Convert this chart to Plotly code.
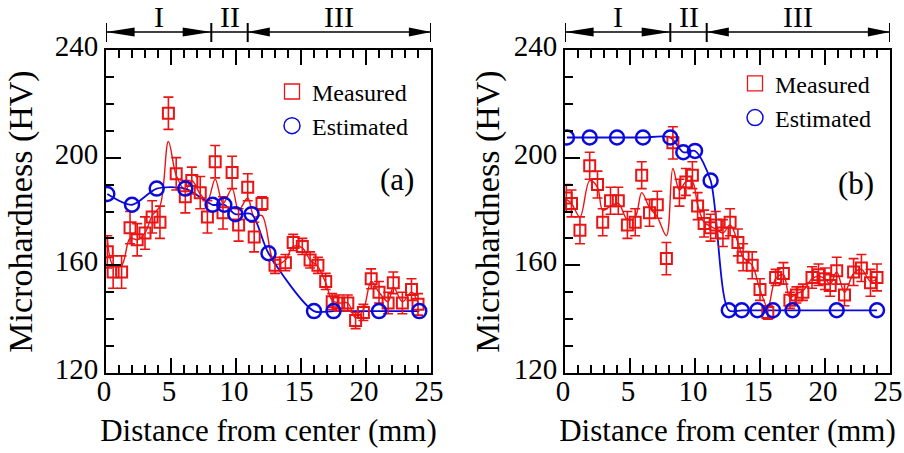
import plotly.graph_objects as go

# ---------------- data ----------------
# Panel (a)
xa_meas = [0.1, 0.55, 1.2, 1.85, 2.4, 3.0, 3.55, 4.15, 4.8, 5.4, 6.1, 6.6, 7.25, 7.8, 8.4, 9.0, 9.7, 10.2,
           10.9, 11.4, 12.0, 13.0, 13.8, 14.4, 15.1, 15.7, 16.3, 16.9, 17.4, 17.9, 18.6, 19.2, 19.8, 20.4,
           21.0, 21.7, 22.1, 22.8, 23.5, 24.0]
ya_meas = [165, 157.5, 157.5, 174, 169.5, 172, 178, 176, 216.5, 194, 185.5, 191.5, 187, 178, 198.5, 179.5,
           194.5, 175, 189, 170.5, 183, 160, 161, 168.5, 167, 162, 160, 154, 146.5, 146, 146, 139.5, 142.5,
           155, 150, 146, 153.5, 146, 151, 145.5]
ea_meas = [6, 6, 6, 6, 6, 6, 6, 6, 6, 6, 6, 5, 6, 6, 6, 6, 6, 6, 5, 5.5, 2.5, 3, 3, 3, 3, 3, 3, 3, 3, 3,
           3, 3, 3, 3.7, 4, 4, 4, 4, 4, 4]
ya_fit = [170.5, 160, 160, 170, 169.5, 172, 178.5, 182, 206, 193.5, 188, 191.5, 186.5, 184, 192, 183, 188.5,
          180.5, 185, 178, 178.5, 160.5, 162, 167, 166.5, 162, 159.5, 153.5, 147, 146, 146, 140.5, 143.5,
          154, 150, 146.5, 152, 146.5, 150, 146]
xa_est = [0.1, 2.0, 3.9, 6.1, 8.2, 9.1, 9.95, 11.2, 12.5, 16.0, 17.5, 21.0, 24.1]
ya_est = [186.5, 182.5, 188.5, 188.5, 182.5, 182.5, 179, 179, 164.5, 143, 143, 143, 143]

# Panel (b)
xb_meas = [0.1, 0.5, 1.15, 1.9, 2.5, 2.9, 3.5, 4.1, 4.8, 5.4, 5.9, 6.5, 7.1, 7.8, 8.3, 8.8, 9.3, 9.8, 10.2,
           10.7, 11.2, 11.6, 12.15, 12.7, 13.3, 13.7, 14.4, 15.0, 15.6, 16.2, 16.8, 17.3, 17.8, 18.3, 19.0,
           19.5, 20.0, 20.4, 20.9, 21.5, 22.2, 22.8, 23.5, 24.0]
yb_meas = [185, 183, 173, 197, 190, 176, 184, 184, 175, 176, 193.5, 179.5, 182.5, 162.5, 205.5, 187, 191,
           193.5, 182, 175.5, 174, 175, 172, 176, 168.5, 163, 160, 151, 142.5, 155.5, 157, 147, 149, 150,
           155.5, 156.5, 155, 152.5, 158, 149, 157.5, 159, 153.5, 155.5]
eb_meas = [5, 5, 5, 5, 5, 5, 5, 5, 5, 5, 5, 5, 5, 6, 6, 5, 5, 5, 5, 5, 5, 5, 5, 5, 5, 5, 5, 4, 2.5, 3, 4,
           3, 3, 3, 4, 4, 4, 4, 5, 4, 5, 5, 5, 5]
yb_fit = [184.5, 183, 178, 191.5, 189, 180.5, 182, 183, 177, 178, 187, 181.5, 178, 171, 196, 188, 191, 191,
          182.5, 176, 174.5, 173.5, 172, 175, 168.5, 163, 160, 151, 144.5, 155, 156.5, 148, 149.5, 150.5,
          155, 156, 155, 153, 157.5, 150, 157, 158.5, 154, 155]
xb_est = [0.15, 1.9, 4.0, 6.0, 8.1, 9.1, 10.0, 11.2, 12.6, 13.6, 14.8, 16.0, 17.5, 20.9, 24.0]
yb_est = [207.5, 207.5, 207.5, 207.5, 207.5, 202, 202.5, 191.5, 143.3, 143.3, 143.3, 143.3, 143.3, 143.3, 143.3]

# regions (mm)
regions_a = [0, 8.1, 10.9, 25]
regions_b = [0, 8.1, 10.9, 25]
region_labels = ["I", "II", "III"]

RED = "rgb(235,20,20)"
BLUE = "rgb(10,10,220)"
FONT = "Liberation Serif"

fig = go.Figure()


def add_panel(xm, ym, em, yfit, xe, ye, xa, ya, legend):
    fig.add_trace(go.Scatter(x=xm, y=yfit, mode="lines", line=dict(color=RED, width=1.4, shape="spline", smoothing=1.0),
                             xaxis=xa, yaxis=ya, showlegend=False, hoverinfo="skip"))
    fig.add_trace(go.Scatter(x=xe, y=ye, mode="lines", line=dict(color=BLUE, width=1.8, shape="spline", smoothing=0.8),
                             xaxis=xa, yaxis=ya, showlegend=False, hoverinfo="skip"))
    fig.add_trace(go.Scatter(x=xm, y=ym, mode="markers", showlegend=False,
                             marker=dict(symbol="square-open", size=11, color=RED, line=dict(width=2, color=RED)),
                             error_y=dict(type="data", array=em, color=RED, thickness=1.6, width=5),
                             xaxis=xa, yaxis=ya))
    fig.add_trace(go.Scatter(x=xe, y=ye, mode="markers", showlegend=False,
                             marker=dict(symbol="circle-open", size=14, color=BLUE, line=dict(width=2.5, color=BLUE)),
                             xaxis=xa, yaxis=ya))
    # legend entries (thin, larger symbols as in the reference legend)
    fig.add_trace(go.Scatter(x=[None], y=[None], mode="markers", name="Measured",
                             marker=dict(symbol="square-open", size=15, color=RED, line=dict(width=1.3, color=RED)),
                             xaxis=xa, yaxis=ya, legend=legend))
    fig.add_trace(go.Scatter(x=[None], y=[None], mode="markers", name="Estimated",
                             marker=dict(symbol="circle-open", size=16, color=BLUE, line=dict(width=1.5, color=BLUE)),
                             xaxis=xa, yaxis=ya, legend=legend))


add_panel(xa_meas, ya_meas, ea_meas, ya_fit, xa_est, ya_est, "x", "y", "legend")
add_panel(xb_meas, yb_meas, eb_meas, yb_fit, xb_est, yb_est, "x2", "y2", "legend2")

H_PLOT = 323.0  # plot height in px
def py(offset_px):
    return 1 + offset_px / H_PLOT

shapes = []
annotations = []
for xr, bounds in (("x", regions_a), ("x2", regions_b)):
    yl = py(18)
    for b in bounds:
        shapes.append(dict(type="line", xref=xr, yref="paper", x0=b, x1=b, y0=py(8), y1=py(27),
                           line=dict(color="black", width=2)))
    for i in range(3):
        shapes.append(dict(type="line", xref=xr, yref="paper", x0=bounds[i], x1=bounds[i + 1], y0=yl, y1=yl,
                           line=dict(color="black", width=1.5)))
    hh = 4.5 / H_PLOT
    for i, L in ((0, 2.2), (2, 1.7)):
        a, b = bounds[i], bounds[i + 1]
        shapes.append(dict(type="path", xref=xr, yref="paper", fillcolor="black", line=dict(width=0),
                           path=f"M {a},{yl} L {a + L},{yl + hh} L {a + L},{yl - hh} Z"))
        shapes.append(dict(type="path", xref=xr, yref="paper", fillcolor="black", line=dict(width=0),
                           path=f"M {b},{yl} L {b - L},{yl + hh} L {b - L},{yl - hh} Z"))
    for i, lab in enumerate(region_labels):
        annotations.append(dict(x=(bounds[i] + bounds[i + 1]) / 2, y=py(34), xref=xr, yref="paper",
                                text=lab, showarrow=False, yanchor="middle",
                                font=dict(family=FONT, size=30, color="black")))

annotations.append(dict(x=22.4, y=192, xref="x", yref="y", text="(a)", showarrow=False,
                        font=dict(family=FONT, size=31, color="black")))
annotations.append(dict(x=22.4, y=190.5, xref="x2", yref="y2", text="(b)", showarrow=False,
                        font=dict(family=FONT, size=31, color="black")))


def xaxis_common():
    return dict(range=[0, 25], dtick=5, ticks="inside", ticklen=15, tickwidth=2, tickcolor="black",
                showline=True, linewidth=2, linecolor="black", mirror="ticks", showgrid=False, zeroline=False,
                minor=dict(ticks="inside", dtick=1, ticklen=8, tickwidth=1.5, tickcolor="black"),
                tickfont=dict(family=FONT, size=29, color="black"),
                ticklabeloverflow="allow", ticklabelshift=-2, ticklabelstandoff=-9,
                title=dict(text="Distance from center (mm)", font=dict(family=FONT, size=31, color="black"),
                           standoff=14),
                automargin=False)


def yaxis_common(standoff):
    return dict(range=[120, 240], dtick=40, ticks="inside", ticklen=15, tickwidth=2, tickcolor="black",
                showline=True, linewidth=2, linecolor="black", mirror=True, showgrid=False, zeroline=False,
                minor=dict(ticks="inside", dtick=10, ticklen=8, tickwidth=1.5, tickcolor="black"),
                tickfont=dict(family=FONT, size=29, color="black"), ticklabelshift=-4,
                title=dict(text="Microhardness (HV)", font=dict(family=FONT, size=34, color="black"),
                           standoff=standoff),
                automargin=False)


W = 904.0
fig.update_layout(
    width=904, height=453,
    margin=dict(l=0, r=0, t=50, b=80),
    paper_bgcolor="white", plot_bgcolor="white",
    font=dict(family=FONT, color="black"),
    xaxis=dict(domain=[106 / W, 431 / W], anchor="y", **xaxis_common()),
    yaxis=dict(domain=[0, 1], anchor="x", **yaxis_common(12)),
    xaxis2=dict(domain=[565 / W, 890 / W], anchor="y2", **xaxis_common()),
    yaxis2=dict(domain=[0, 1], anchor="x2", **yaxis_common(4)),
    legend=dict(x=272 / W, y=0.94, xanchor="left", yanchor="top", bgcolor="rgba(0,0,0,0)",
                font=dict(family=FONT, size=24, color="black"), tracegroupgap=0, itemsizing="trace"),
    legend2=dict(x=735 / W, y=0.965, xanchor="left", yanchor="top", bgcolor="rgba(0,0,0,0)",
                 font=dict(family=FONT, size=24, color="black"), tracegroupgap=0, itemsizing="trace"),
    shapes=shapes,
    annotations=annotations,
)

fig.write_html("out.html")
